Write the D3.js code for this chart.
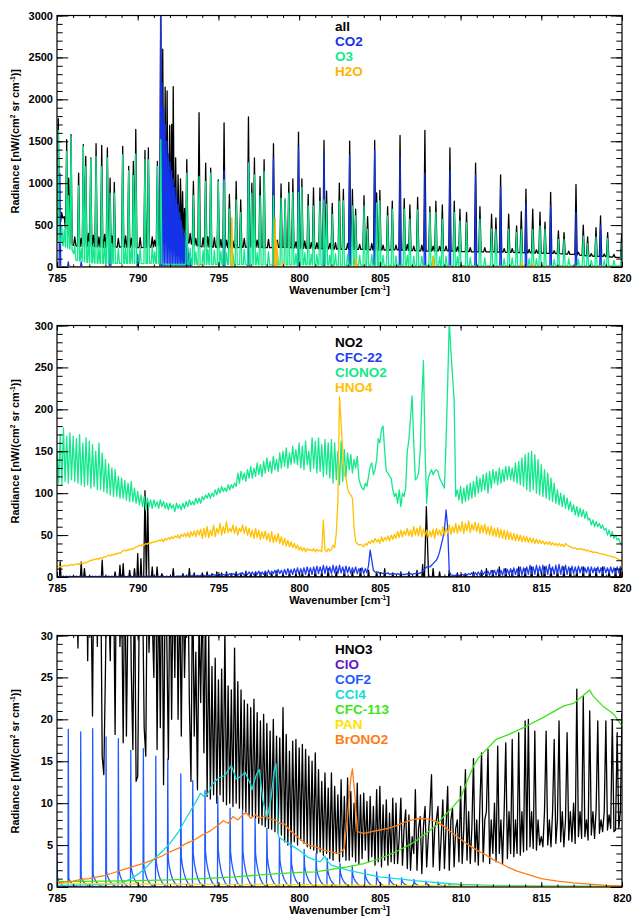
<!DOCTYPE html>
<html>
<head>
<meta charset="utf-8">
<script src="https://cdn.jsdelivr.net/npm/d3@7"></script>
<style>
  body { margin: 0; background: #fff; }
  text { font-family: "Liberation Sans", Arial, Helvetica, sans-serif; font-weight: bold; }
</style>
</head>
<body>
<svg id="chart" width="632" height="916"></svg>
<script>
// ---------- axes / labels ----------
const wnTicks = [785, 790, 795, 800, 805, 810, 815, 820];
const yTicks1 = [0, 500, 1000, 1500, 2000, 2500, 3000];
const yTicks2 = [0, 50, 100, 150, 200, 250, 300];
const yTicks3 = [0, 5, 10, 15, 20, 25, 30];

const names1 = ["all", "CO2", "O3", "H2O"];
const colors1 = ["#000000", "#1432e8", "#14e88c", "#ffb400"];
const names2 = ["NO2", "CFC-22", "ClONO2", "HNO4"];
const colors2 = ["#000000", "#1e3cf0", "#14e88c", "#ffc000"];
const names3 = ["HNO3", "ClO", "COF2", "CCl4", "CFC-113", "PAN", "BrONO2"];
const colors3 = ["#000000", "#6414c8", "#1e5aff", "#14dcdc", "#3ce614", "#ffe100", "#ff7d14"];

// ---------- panel 1 : radiance, nW/(cm2 sr cm-1) ----------
// continuum of the total spectrum [wavenumber, radiance]
const allBase = [[785,450],[785.2,520],[785.4,600],[785.5,480],[785.75,300],[786,260],[786.5,240],[787,250],[788,230],[789,240],
  [790,230],[791,240],[791.4,260],[792,300],[793,300],[793.5,260],[794,240],[795,235],[796,230],[797,240],[798,230],[799,235],
  [800,225],[801,220],[802,215],[803,210],[804,210],[805,200],[806,205],[807,195],[808,190],[809,195],[810,185],[811,180],
  [812,180],[813,175],[814,170],[815,165],[816,160],[817,150],[818,130],[819,125],[820,110]];
// line peaks [wavenumber, radiance]
const allPeaks = [[785.08,1770],[785.29,650],[785.45,600],[785.6,1520],[785.72,1060],[785.87,1580],[786.1,360],[786.34,1120],
  [786.5,340],[786.63,1460],[786.78,1320],[786.95,400],[787.09,1300],[787.25,380],[787.42,1470],[787.6,360],[787.77,1450],
  [787.95,390],[788.12,1420],[788.29,1060],[788.4,370],[788.55,1010],[788.8,340],[789.07,1440],[789.25,370],[789.44,1200],
  [789.6,340],[789.73,1260],[789.88,1640],[790.15,350],[790.45,1390],[790.66,1420],[790.9,360],[791.05,320],[791.22,1260],
  [791.43,3200],[791.55,2600],[791.7,2145],[791.82,2100],[791.98,1690],[792.1,1700],[792.2,2150],[792.35,1300],[792.5,1100],
  [792.65,1050],[792.78,900],[792.9,700],[793.04,1280],[793.25,400],[793.45,1020],[793.6,340],[793.8,1840],[794.05,350],
  [794.21,1240],[794.35,360],[794.52,1180],[794.75,350],[794.99,1040],[795.15,330],[795.35,1720],[795.5,320],[795.68,865],
  [795.9,310],[796.1,1020],[796.38,800],[796.6,340],[796.86,1790],[797.07,1000],[797.23,1300],[797.4,320],[797.58,1080],
  [797.83,1280],[798.1,330],[798.41,1470],[798.65,320],[798.88,990],[799.13,800],[799.36,1010],[799.61,1050],[799.8,300],
  [799.96,1610],[800.17,1050],[800.35,310],[800.56,865],[800.75,290],[800.89,945],[801.1,290],[801.29,945],[801.54,1510],
  [801.7,905],[801.9,280],[802.05,760],[802.25,290],[802.49,1000],[802.74,925],[803.0,280],[803.13,1500],[803.3,925],
  [803.5,690],[803.75,270],[804.02,850],[804.24,600],[804.5,280],[804.68,1510],[804.8,885],[805.0,915],[805.2,260],
  [805.48,720],[805.77,785],[806.0,260],[806.25,1570],[806.51,815],[806.7,270],[806.86,740],[807.1,250],[807.34,830],
  [807.6,260],[807.79,1630],[808.1,720],[808.3,250],[808.47,785],[808.7,245],[808.87,740],[809.1,250],[809.34,1420],
  [809.61,785],[809.8,240],[809.96,690],[810.37,650],[810.6,230],[810.93,1240],[811.2,720],[811.5,230],[811.92,630],
  [812.19,585],[812.48,1100],[812.7,220],[812.98,630],[813.2,220],[813.47,490],[813.76,660],[814.05,930],[814.25,210],
  [814.47,690],[814.7,205],[814.92,655],[815.23,535],[815.58,890],[815.8,195],[816.06,430],[816.41,410],[816.7,190],
  [817.15,985],[817.3,175],[817.6,500],[817.87,360],[818.1,160],[818.39,470],[818.67,610],[818.9,155],[819.11,410],
  [819.5,150],[819.98,390]];

const co2Base = [[785,0],[820,0]];
const co2Peaks = [[785.18,1120],[785.7,60],[786.5,60],[788.29,760],[790.0,150],[791.42,3200],[791.5,2200],[791.6,1900],
  [791.7,1700],[791.8,1500],[791.9,1350],[792.0,1250],[792.1,1150],[792.2,1050],[792.3,950],[792.4,850],[792.5,750],
  [792.6,650],[792.7,550],[792.8,450],[792.9,380],[793.0,300],[793.1,230],[793.2,160],[793.3,100],[795.35,1150],
  [796.86,1250],[798.41,1300],[799.96,1420],[801.54,1350],[803.13,1330],[804.68,1390],[806.25,1310],[807.79,1120],
  [809.34,1150],[810.93,1100],[812.48,955],[814.05,760],[815.58,735],[817.15,650],[818.67,495]];

const o3Base = [[785,330],[785.4,250],[785.95,200],[786.2,80],[787,50],[788,40],[789,45],[790,40],[791,45],[792,30],
  [793,30],[794,30],[795,30],[796,30],[798,25],[800,25],[805,20],[810,15],[815,12],[820,12]];
const o3Peaks = [[785.08,1630],[785.29,500],[785.45,450],[785.6,1380],[785.72,850],[785.87,1560],[786.1,260],[786.34,970],
  [786.5,220],[786.63,1440],[786.78,1200],[786.95,300],[787.09,1290],[787.25,260],[787.42,1320],[787.6,240],[787.77,1200],
  [787.95,300],[788.12,1300],[788.29,880],[788.4,280],[788.55,880],[788.8,220],[789.07,1340],[789.25,260],[789.44,1150],
  [789.6,220],[789.73,1090],[789.88,1350],[790.15,230],[790.45,1280],[790.66,1280],[790.9,250],[791.05,180],[791.22,1200],
  [791.43,1520],[793.04,1120],[793.25,220],[793.45,850],[793.6,180],[793.8,1080],[794.05,200],[794.21,1020],[794.35,210],
  [794.52,1120],[794.75,200],[794.99,1020],[795.15,190],[795.35,1040],[795.5,170],[795.68,690],[795.9,160],[796.1,800],
  [796.38,650],[796.6,210],[796.86,1240],[797.07,880],[797.23,1100],[797.4,170],[797.58,850],[797.83,1140],[798.1,180],
  [798.41,850],[798.65,170],[798.88,820],[799.13,820],[799.36,880],[799.61,890],[799.8,160],[799.96,890],[800.17,950],
  [800.35,170],[800.56,730],[800.75,150],[800.89,730],[801.1,150],[801.29,785],[801.54,800],[801.7,750],[801.9,140],
  [802.05,630],[802.25,160],[802.49,785],[802.74,790],[803.0,150],[803.3,730],[803.5,610],[803.75,140],[804.02,730],
  [804.24,450],[804.5,150],[804.8,765],[805.0,790],[805.2,140],[805.48,610],[805.77,690],[806.0,130],[806.51,690],
  [806.7,140],[806.86,570],[807.1,130],[807.34,680],[807.6,130],[808.1,650],[808.3,130],[808.47,650],[808.7,120],
  [808.87,570],[809.1,130],[809.61,650],[809.8,120],[809.96,550],[810.37,530],[810.6,110],[811.2,570],[811.5,110],
  [811.92,455],[812.19,450],[812.7,100],[812.98,450],[813.2,110],[813.47,410],[813.76,450],[814.25,100],[814.47,450],
  [814.7,100],[814.92,490],[815.23,450],[815.8,90],[816.06,330],[816.41,330],[816.7,100],[817.3,90],[817.6,370],
  [817.87,280],[818.1,80],[818.39,360],[818.9,85],[819.11,340],[819.5,80],[819.98,290]];

const h2oBase = [[785,0],[820,0]];
const h2oPeaks = [[793.8,30],[795.83,590],[798.51,590],[798.62,300],[799.0,60],[803.52,110],[808.31,130],[813.82,50],[814.5,40]];

// ---------- panel 2 ----------
const no2Base = [[785,0],[820,0]];
// [wavenumber, radiance, optional half width]
const no2Peaks = [[785.2,18],[786.5,18],[786.7,10],[787.8,20],[788.6,6],[788.9,14],[789.1,16],[789.5,8],[789.8,10],
  [790.0,28],[790.2,22],[790.45,103,0.08],[790.62,90,0.08],[790.9,12],[791.2,12],[791.5,4],[792.2,10],[792.8,4],[793.2,10],
  [793.5,5],[794.0,5],[794.3,6],[794.6,4],[794.9,6],[795.2,5],[795.5,6],[795.8,4],[796.1,6],[796.4,5],[796.7,7],[797.0,4],
  [797.3,6],[797.6,5],[797.9,6],[798.3,4],[798.6,7],[799.0,5],[799.4,6],[799.8,4],[800.2,6],[800.6,5],[801.0,8],[801.4,6],
  [801.8,10],[802.3,6],[802.8,8],[803.3,6],[803.8,10],[804.3,8],[804.8,6],[805.3,10],[805.8,5],[806.3,6],[806.8,6],
  [807.3,8],[807.65,15],[807.88,84,0.14],[808.3,10],[808.7,6],[809.3,8],[809.8,5],[810.3,4],[810.8,6],[811.3,8],
  [811.6,10],[812.0,8],[812.4,12],[812.8,10],[813.2,8],[813.6,12],[814.0,10],[814.4,12],[814.8,8],[815.2,12],[815.6,10],
  [816.0,8],[816.4,12],[816.8,10],[817.2,8],[817.6,12],[818.0,8],[818.4,10],[818.8,12],[819.2,8],[819.6,10],[819.9,12]];

// sampled spectra, 785 to 820 cm-1 every 0.1 cm-1
const gridStart = 785, gridStep = 0.1;
const cfc22 = [
  1,0,1,0,1,0,1,0,1,0, 1,0,1,0,1,0,1,0,1,0, 1,0,1,0,1,0,1,0,1,0, 1,0,1,0,1,0,1,0,1,0,
  1,0,1,0,1,0,1,0,1,0, 1,0,1,0,1,0,1,0,1,0, 1,0,1,0,1,0,1,0,1,0, 1,0,1,0,1,1,1,1,1,1,
  1,1,1,1,2,1,1,2,1,2, 1,2,1,2,2,2,1,3,2,3, 2,3,2,3,2,4,2,4,2,4, 3,5,2,4,3,5,2,5,3,6,
  3,6,2,6,3,7,2,6,3,7, 3,8,3,7,4,8,3,9,4,8, 3,9,3,10,4,9,3,10,4,11, 3,10,4,11,3,12,4,11,3,12,
  4,13,4,12,5,14,4,13,5,12, 4,14,5,13,4,14,5,12,4,13, 5,12,4,11,5,12,4,10,5,11, 4,10,5,14,32,20,8,6,5,6,
  4,5,4,5,4,5,3,4,3,4, 3,4,3,4,3,3,3,4,3,4, 3,4,4,5,4,5,6,8,10,12, 12,12,14,16,18,20,24,30,38,46,
  56,80,60,6,3,2,2,2,3,2, 2,3,2,4,2,4,3,5,2,5, 3,6,2,7,3,6,3,7,2,8, 3,8,2,9,3,8,2,10,3,9,
  3,10,2,11,3,10,3,12,2,11, 3,12,3,14,4,12,3,14,4,13, 3,14,4,13,3,15,4,12,3,14, 4,15,3,13,4,14,3,12,4,13,
  4,12,4,13,5,12,4,11,5,12, 4,12,5,11,4,12,5,11,4,12, 5,11,4,12,5,11,4,12,5,11, 10];
const clono2 = [
  150,112,170,110,178,114,168,112,172,116, 168,114,165,112,170,110,160,108,166,110,
  162,106,158,108,150,104,160,104,148,102, 140,100,135,98,130,96,128,96,120,94,
  118,94,115,92,112,90,114,90,106,88, 102,86,98,84,96,80,94,84,92,82,
  92,84,90,82,92,84,90,82,88,80, 88,82,86,78,88,82,86,80,88,82,
  90,84,92,86,90,86,94,88,94,88, 96,92,98,94,100,94,100,96,104,98,
  106,100,108,102,106,102,110,104,110,106, 112,108,124,112,126,116,124,114,128,118,
  132,118,130,120,136,122,134,120,138,124, 142,126,138,124,144,128,140,126,148,130,
  150,132,154,130,148,134,156,136,152,134, 160,130,156,128,162,134,150,126,166,130,
  162,124,166,126,158,120,164,122,160,118, 164,112,160,116,150,110,162,114,152,120,
  148,128,146,124,140,130,144,118,110,106, 104,112,108,120,132,136,122,128,140,165,
  160,176,180,150,126,124,120,118,104,96, 100,88,104,84,100,96,106,150,164,190,
  216,160,116,118,124,150,210,258,150,88, 118,124,128,122,126,128,126,118,114,110,
  106,160,230,305,270,240,212,96,104,92, 108,88,106,90,110,92,112,94,114,96,
  120,100,118,102,122,104,124,100,126,106, 128,112,126,110,130,112,128,114,132,116,
  132,116,130,114,136,112,138,110,142,108, 146,104,148,102,150,104,146,100,140,98,
  134,96,128,94,124,92,118,90,112,88, 104,86,100,84,98,82,94,80,90,78,
  86,74,84,72,82,72,80,70,78,68, 70,62,68,60,66,60,64,58,62,56,
  58,50,56,48,54,46,50,44,46,40, 38];
const hno4 = [
  12,13,12,13,13,14,13,14,14,15, 14,15,15,16,15,17,16,17,17,18, 19,20,20,21,21,22,21,23,22,24,
  24,25,26,25,27,26,28,27,29,28, 30,31,32,31,33,32,34,33,35,36, 36,38,37,39,38,40,39,41,40,42,
  41,43,42,44,43,45,42,46,44,47, 45,48,46,49,47,50,46,51,48,52, 48,53,47,54,49,55,48,56,50,57,
  46,58,48,60,47,56,49,62,48,58, 52,64,50,60,52,66,53,58,54,62, 52,60,50,58,54,62,52,60,50,58,
  48,56,46,58,47,56,45,54,46,55, 44,52,42,54,41,50,42,52,40,48, 38,46,37,44,36,42,35,40,34,38,
  32,36,31,35,30,34,32,33,31,34, 30,33,31,32,30,68,32,30,34,31, 33,38,35,52,90,215,184,150,122,118,
  106,100,98,94,60,42,40,38,39,38, 36,40,38,42,40,44,41,46,42,45, 40,48,42,47,44,49,43,50,45,51,
  46,54,47,56,48,55,50,58,49,56, 48,60,50,58,49,61,48,57,50,56, 47,55,48,57,46,58,50,56,49,60,
  50,58,52,62,51,60,53,64,52,62, 54,66,52,64,55,67,53,63,56,65, 54,64,52,62,53,63,51,60,50,61,
  49,58,48,59,47,57,46,56,45,55, 45,53,44,52,43,51,43,50,42,49, 42,48,41,47,41,46,40,45,40,44,
  40,43,39,42,39,42,38,41,38,40, 37,40,37,39,36,40,38,37,36,35, 34,35,33,34,33,34,32,33,31,32,
  30,31,29,30,29,29,28,28,27,27, 26,26,25,25,24,24,23,22,21,20, 18];

// ---------- panel 3 ----------
const hno3 = [
  40,52,38,60,42,48,36,55,40,46, 40,48,36,28.5,44,34,52,40,46,27, 42,36,20.4,44,38,28.7,46,40,15.6,13.4,
  25.7,40,34,27,44,38,18.2,46,42,28.7, 36,17.2,40,18,34,44,26,16.4,38,12.6, 13.2,34,42,36,19,15.6,40,28,36,32,
  25,44,16.4,38,19,42,12.2,36,30,15.2, 40,20,38,25,42,20,36,18,38,25, 34,40,22,12.6,38,18,28,11.6,32,22,
  36,16,34,10.8,30,10.5,26.3,11,27.3,10, 24.7,11,26,10.2,31,9.8,24,10,23.5,9.6, 28.5,10,24.5,9.4,23.5,9.2,22.3,8.8,21.8,8.6,
  21.4,8.4,22.4,8.2,20.8,7.6,19.8,7.4,20.6,7.2, 19.5,7,18.6,6.9,20,6.6,18,6.4,17.8,6.2, 21.4,5.4,18.2,5,16.2,4.8,17.4,5.4,17.6,5,
  16.6,5.6,17,5.2,16.4,4.8,15.6,4.6,15,4.4, 16,4,14,4.2,12.6,3.8,13.6,4,11.8,3.4, 13.6,3.2,12,4,11,3,12.8,3.6,10.8,3.2,
  13,3.2,11.4,3.6,10,3,12.4,2.8,11,3.4, 11.2,4.4,10.2,3,10.8,3.6,9.6,2.6,11.6,3, 12,2.4,9.8,3.2,10.4,2.6,8.8,3,10.6,2.8,
  10,2.8,6,10.6,2.6,7,9.2,2.2,8.6,2, 6,4,11.6,2,7,8.4,1.6,7.2,9.6,2.4, 6,9,13.4,2.4,7,8,9.6,2,6,10.4,
  2.2,7,12,2,8,9.4,2.4,7,8,3, 12,2.8,7,14,3.2,9,2.8,7,15.3,3, 8,2.6,10,16,3,8,9,16.4,2.8,8,
  4,10,3,16.8,4,8,2.8,9,17.2,3.4, 9,4,17.6,3.6,8,4,18.4,3.8,9,4.2, 19.8,4.4,20,4.8,9,4.6,18.6,4.4,8,5,
  6,4.8,9,18.6,5,8,4.8,9,17.6,5.2, 8,19.8,5.4,9,4.8,8,18.4,5.6,9,5.4, 10,5.2,23.6,6,9,5.8,22.7,6,8,5.6,
  21,6.2,9,5.8,9.4,19.8,6.4,8,6.6,9, 19.8,6.8,8.6,7,20,6.6,6.8,18.4,7,9, 20.8];

const cloData = [[785,0],[820,0]];
// COF2 lines [wavenumber, peak radiance, radiance of the tail just after the peak]
const cof2Lines = [[785.0,4.5,1.0],[785.7,18.8,1.0],[786.47,18.5,1.2],[787.21,18.9,1.5],[788.04,17.9,1.8],[788.8,17.7,2.0],
  [789.57,16.3,2.3],[790.35,16.5,2.6],[791.12,15.6,3.0],[791.86,15.3,3.4],[792.67,13.5,3.6],[793.41,12.7,4.0],
  [794.17,11.5,4.2],[794.96,10.8,4.4],[795.72,9.4,4.2],[796.49,9.2,4.2],[797.27,8.2,4.0],[798.0,7.0,3.6],[798.78,5.9,3.2],
  [799.5,5.3,2.8],[800.31,4.5,2.5],[801.05,4.0,2.2],[801.74,3.4,2.0],[802.53,2.8,1.7],[803.29,2.5,1.5],[804.08,2.1,1.3],
  [804.8,1.8,1.1],[805.59,1.5,0.9],[806.35,1.1,0.7],[807.11,0.9,0.55],[807.85,0.7,0.45],[808.6,0.6,0.35],
  [809.3,0.4,0.25],[810.07,0.3,0.18],[810.79,0.2,0.12],[811.55,0.12,0.08]];
// tail profile after each COF2 peak [offset cm-1, fraction of tail value]
const cof2Tail = [[0.03,1],[0.1,0.7],[0.2,0.45],[0.3,0.28],[0.45,0.12],[0.6,0.04],[0.72,0]];
const ccl4 = [[785,0.2],[787,0.25],[788,0.3],[789,0.5],[789.5,0.9],[790,1.5],[790.5,2.3],[791,3.3],[791.5,4.2],[792,5.2],
  [792.5,6.5],[793,8.2],[793.5,9.8],[793.9,11.2],[794.1,10.8],[794.3,11.0],[794.6,12.2],[795,13.0],[795.4,13.3],
  [795.8,14.5],[796.1,12.9],[796.4,13.2],[796.65,13.7],[797.0,12.2],[797.07,11.6],[797.35,13.4],[797.54,14.0],[797.75,10.4],
  [798.0,8.0],[798.25,10.5],[798.45,13.8],[798.57,14.7],[798.72,6.0],[799.0,5.6],[799.5,5.0],[800,4.4],[800.5,3.6],
  [801,3.2],[801.3,3.0],[801.6,3.7],[801.7,3.2],[802,2.6],[802.5,2.3],[803,2.0],[804,1.6],[805,1.2],[806,1.0],[807,0.8],
  [808,0.6],[809,0.45],[810,0.3],[812,0.2],[815,0.12],[820,0.06]];
const cfc113 = [[785,0.65],[788,0.7],[790,0.75],[792,0.85],[794,1.0],[796,1.2],[798,1.5],[800,1.75],[801,1.8],[802,2.1],
  [803,2.4],[804,2.8],[805,3.4],[806,4.2],[807,5.2],[808,6.6],[808.5,7.4],[809,8.5],[809.5,9.5],[810,10.6],[810.4,12.6],
  [810.8,14.4],[811.1,15.4],[811.4,16],[812.2,17.6],[813,18.2],[814.1,19.2],[815.1,20.2],[816.4,21.6],[817,21.9],
  [817.5,22.7],[818,23.5],[818.2,22.8],[818.8,21.6],[819.5,20.6],[820,19.2]];
const pan = [[785,0.4],[790,0.36],[795,0.32],[800,0.27],[805,0.2],[810,0.12],[815,0.06],[820,0.03]];
const brono2 = [[785,0.4],[785.5,0.6],[786,0.7],[786.5,0.9],[787,1.0],[787.5,1.2],[788,1.4],[788.5,1.7],[789,2.0],
  [789.5,2.3],[790,2.6],[790.5,2.9],[791,3.3],[791.5,3.7],[792,4.2],[792.5,4.6],[793,5.2],[793.5,5.6],[794,6.2],
  [794.5,6.7],[795,7.4],[795.3,7.9],[795.6,7.6],[795.9,8.4],[796.2,8.0],[796.5,8.6],[796.7,8.9],[797,8.2],[797.3,8.6],
  [797.6,8.2],[797.9,8.5],[798.2,8.1],[798.5,8.0],[798.8,7.6],[799.1,7.5],[799.4,6.8],[799.7,6.3],[800,5.8],[800.3,5.3],
  [800.6,5.0],[801,4.8],[801.5,4.4],[802,4.2],[802.5,4.0],[802.8,4.6],[803.0,8.5],[803.2,13],[803.3,14.1],[803.45,11],
  [803.6,6.6],[804,6.4],[804.5,6.6],[805,6.8],[805.5,7.0],[806,7.3],[806.5,7.7],[807,8.0],[807.5,8.2],[808,8.1],
  [808.5,7.8],[809,7.2],[809.5,6.4],[810,5.7],[810.5,5.0],[811,4.4],[811.5,3.9],[812,3.3],[812.5,2.8],[813,2.3],
  [813.5,1.9],[814,1.6],[814.5,1.3],[815,1.0],[816,0.7],[817,0.5],[818,0.35],[819,0.2],[820,0.12]];

// ---------- helpers ----------
function spikes(base, peaks, hw) {
  const B = d3.scaleLinear().domain(base.map(d => d[0])).range(base.map(d => d[1]));
  const ps = peaks.slice().sort((a, b) => a[0] - b[0]);
  const pts = [];
  ps.forEach((p, i) => {
    const w = p[2] || hw;
    const lo = i > 0 ? Math.max(p[0] - w, (p[0] + ps[i - 1][0]) / 2) : p[0] - w;
    const hi = i < ps.length - 1 ? Math.min(p[0] + w, (p[0] + ps[i + 1][0]) / 2) : p[0] + w;
    pts.push([lo, B(lo)], [p[0], p[1]], [hi, B(hi)]);
  });
  base.forEach(b => {
    if (!ps.some(p => Math.abs(b[0] - p[0]) < (p[2] || hw))) pts.push(b);
  });
  return pts.sort((a, b) => a[0] - b[0]);
}
function sampled(vals) {
  return vals.map((v, i) => [gridStart + i * gridStep, v]);
}
function tailLines(lines, tail) {
  const pts = [[784.9, 0]];
  lines.forEach(l => {
    pts.push([l[0] - 0.02, 0], [l[0], l[1]]);
    tail.forEach(t => pts.push([l[0] + t[0], l[2] * t[1]]));
  });
  pts.push([820.1, 0]);
  return pts;
}

const panels = [
  { top: 15.5, yTicks: yTicks1, minor: 100, legendY: 25.7, names: names1, colors: colors1,
    series: [spikes(allBase, allPeaks, 0.07), spikes(co2Base, co2Peaks, 0.05),
             spikes(o3Base, o3Peaks, 0.065), spikes(h2oBase, h2oPeaks, 0.06)] },
  { top: 325.5, yTicks: yTicks2, minor: 10, legendY: 341.7, names: names2, colors: colors2,
    series: [spikes(no2Base, no2Peaks, 0.05), sampled(cfc22), sampled(clono2), sampled(hno4)] },
  { top: 635.5, yTicks: yTicks3, minor: 1, legendY: 649, names: names3, colors: colors3,
    series: [sampled(hno3), cloData, tailLines(cof2Lines, cof2Tail), ccl4, cfc113, pan, brono2] }
];

const svg = d3.select("#chart");
const plotH = 251.5;
const x = d3.scaleLinear().domain([785, 820]).range([57, 622]);

panels.forEach((p, k) => {
  const yMax = d3.max(p.yTicks);
  const y = d3.scaleLinear().domain([0, yMax]).range([p.top + plotH, p.top]);
  const g = svg.append("g").attr("class", "panel" + k);

  g.append("clipPath").attr("id", "clip" + k)
    .append("rect").attr("x", 57).attr("y", p.top).attr("width", 565).attr("height", plotH);

  const line = d3.line().x(d => x(d[0])).y(d => y(d[1]));
  const data = g.append("g").attr("clip-path", `url(#clip${k})`);
  p.series.forEach((s, i) => {
    data.append("path")
      .datum(s)
      .attr("d", line)
      .attr("fill", "none")
      .attr("stroke", p.colors[i])
      .attr("stroke-width", 1.3)
      .attr("stroke-linejoin", "round");
  });

  // axes, IDL style: ticks point inwards on all four sides
  const xMinor = d3.range(785, 821, 1);
  const yMinor = d3.range(0, yMax + 1e-9, p.minor);
  const bottom = p.top + plotH;
  const strip = sel => sel.call(a => a.select(".domain").remove());

  g.append("g").attr("transform", `translate(0,${bottom})`)
    .call(d3.axisBottom(x).tickValues(xMinor).tickSize(-2.5).tickFormat("")).call(strip);
  g.append("g").attr("transform", `translate(0,${p.top})`)
    .call(d3.axisTop(x).tickValues(xMinor).tickSize(-2.5).tickFormat("")).call(strip);
  g.append("g").attr("transform", `translate(0,${p.top})`)
    .call(d3.axisTop(x).tickValues(wnTicks).tickSize(-5).tickFormat("")).call(strip);
  g.append("g").attr("class", "xlab").attr("transform", `translate(0,${bottom})`)
    .call(d3.axisBottom(x).tickValues(wnTicks).tickSize(-5).tickPadding(7).tickFormat(d3.format("d"))).call(strip);

  g.append("g").attr("transform", "translate(57,0)")
    .call(d3.axisLeft(y).tickValues(yMinor).tickSize(-5.7).tickFormat("")).call(strip);
  g.append("g").attr("transform", "translate(622,0)")
    .call(d3.axisRight(y).tickValues(yMinor).tickSize(-5.7).tickFormat("")).call(strip);
  g.append("g").attr("transform", "translate(622,0)")
    .call(d3.axisRight(y).tickValues(p.yTicks).tickSize(-11.3).tickFormat("")).call(strip);
  g.append("g").attr("class", "ylab").attr("transform", "translate(57,0)")
    .call(d3.axisLeft(y).tickValues(p.yTicks).tickSize(-11.3).tickPadding(4).tickFormat(d3.format("d"))).call(strip);

  g.selectAll(".tick line").attr("stroke", "#000").attr("stroke-width", 1);
  g.selectAll(".xlab text, .ylab text").attr("font-size", 11).attr("fill", "#000")
    .style("font-family", "'Liberation Sans', Arial, sans-serif").style("font-weight", "bold");

  g.append("rect").attr("x", 57).attr("y", p.top).attr("width", 565).attr("height", plotH)
    .attr("fill", "none").attr("stroke", "#000").attr("stroke-width", 1.2);

  // axis titles
  const xt = g.append("text").attr("x", 339.5).attr("y", bottom + 27).attr("text-anchor", "middle")
    .attr("font-size", 11).text("Wavenumber [cm");
  xt.append("tspan").attr("font-size", 6.5).attr("dy", -4.5).text("-1");
  xt.append("tspan").attr("dy", 4.5).text("]");

  const yt = g.append("text")
    .attr("transform", `translate(19,${p.top + plotH / 2}) rotate(-90)`)
    .attr("text-anchor", "middle").attr("font-size", 11).text("Radiance [nW/(cm");
  yt.append("tspan").attr("font-size", 6.5).attr("dy", -4.5).text("2");
  yt.append("tspan").attr("dy", 4.5).text(" sr cm");
  yt.append("tspan").attr("font-size", 6.5).attr("dy", -4.5).text("-1");
  yt.append("tspan").attr("dy", 4.5).text(")]");

  // legend
  p.names.forEach((n, i) => {
    g.append("text").attr("x", 335).attr("y", p.legendY + i * 15)
      .attr("dy", "0.36em").attr("font-size", 13.5).attr("fill", p.colors[i]).text(n);
  });
});
</script>
</body>
</html>
